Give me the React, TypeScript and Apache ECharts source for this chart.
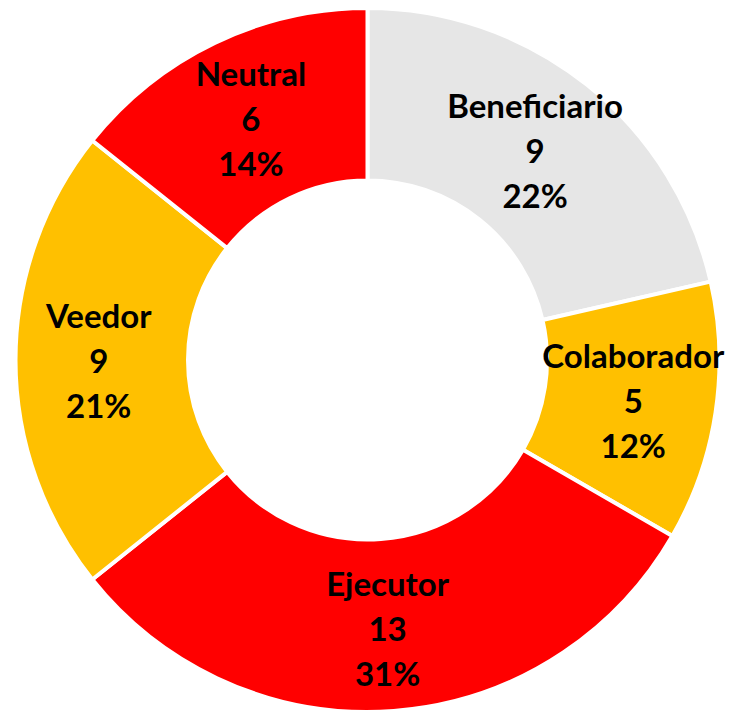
import React, { useEffect, useRef } from "react";
import * as echarts from "echarts";

const categories = ["Beneficiario", "Colaborador", "Ejecutor", "Veedor", "Neutral"];
const values = [9, 5, 13, 9, 6];
const percentLabels = ["22%", "12%", "31%", "21%", "14%"];
const colors = ["#E6E6E6", "#FFC000", "#FF0000", "#FFC000", "#FF0000"];

export default function App() {
  const ref = useRef<HTMLDivElement>(null);
  useEffect(() => {
    document.body.style.margin = "0";
    const chart = echarts.init(ref.current!, null, { renderer: "svg" });
    chart.setOption({
      animation: false,
      backgroundColor: "#ffffff",
      series: [
        {
          type: "pie",
          center: [367.5, 360],
          radius: [179.5, 352],
          startAngle: 90,
          clockwise: true,
          avoidLabelOverlap: false,
          itemStyle: { borderColor: "#ffffff", borderWidth: 4 },
          label: {
            show: true,
            position: "inside",
            color: "#000000",
            fontFamily: "Lato",
            fontWeight: "bold",
            fontSize: 33,
            lineHeight: 45,
            align: "center",
            formatter: (p: any) =>
              `${categories[p.dataIndex]}\n${values[p.dataIndex]}\n${percentLabels[p.dataIndex]}`,
          },
          labelLine: { show: false },
          emphasis: { disabled: true },
          data: categories.map((c, i) => ({
            name: c,
            value: values[i],
            itemStyle: { color: colors[i] },
          })),
        },
      ],
    });
    return () => chart.dispose();
  }, []);
  return <div ref={ref} style={{ width: 734, height: 712 }} />;
}
